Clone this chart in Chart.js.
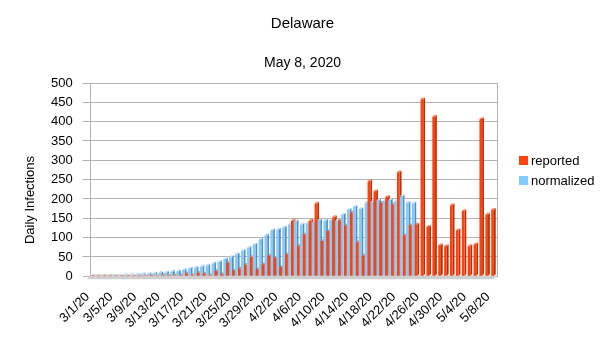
<!DOCTYPE html>
<html>
<head>
<meta charset="utf-8">
<script src="https://cdn.jsdelivr.net/npm/chart.js@4.4.1/dist/chart.umd.min.js"></script>
<style>
  html, body { margin: 0; padding: 0; background: #fff; }
  #wrap { position: relative; width: 605px; height: 340px; font-family: "Liberation Sans", Arial, sans-serif; color: #000; }
  #title { position: absolute; left: 0; width: 605px; top: 14px; text-align: center; font-size: 15px; line-height: 18px; }
  #subtitle { position: absolute; left: 0; width: 605px; top: 54px; text-align: center; font-size: 14px; line-height: 17px; }
  #legend { position: absolute; left: 519px; top: 150px; font-size: 13px; }
  #legend .item { height: 20px; display: flex; align-items: center; }
  #legend .box { width: 9px; height: 9px; margin-right: 3px; }
</style>
</head>
<body>
<div id="wrap">
  <canvas id="chart" width="605" height="340"></canvas>
  <div id="title"></div>
  <div id="subtitle"></div>
  <div id="legend"></div>
</div>
<script>
const FONT = '"Liberation Sans", Arial, sans-serif';
const TITLE = "Delaware";
const SUBTITLE = "May 8, 2020";
const Y_TITLE = "Daily Infections";

const dates = [
  "3/1/20", "3/2/20", "3/3/20", "3/4/20", "3/5/20", "3/6/20", "3/7/20", "3/8/20", "3/9/20", "3/10/20",
  "3/11/20", "3/12/20", "3/13/20", "3/14/20", "3/15/20", "3/16/20", "3/17/20", "3/18/20", "3/19/20", "3/20/20",
  "3/21/20", "3/22/20", "3/23/20", "3/24/20", "3/25/20", "3/26/20", "3/27/20", "3/28/20", "3/29/20", "3/30/20",
  "3/31/20", "4/1/20", "4/2/20", "4/3/20", "4/4/20", "4/5/20", "4/6/20", "4/7/20", "4/8/20", "4/9/20",
  "4/10/20", "4/11/20", "4/12/20", "4/13/20", "4/14/20", "4/15/20", "4/16/20", "4/17/20", "4/18/20", "4/19/20",
  "4/20/20", "4/21/20", "4/22/20", "4/23/20", "4/24/20", "4/25/20", "4/26/20", "4/27/20", "4/28/20", "4/29/20",
  "4/30/20", "5/1/20", "5/2/20", "5/3/20", "5/4/20", "5/5/20", "5/6/20", "5/7/20", "5/8/20",
];

const tickLabels = [
  "3/1/20", "3/5/20", "3/9/20", "3/13/20", "3/17/20", "3/21/20", "3/25/20", "3/29/20", "4/2/20",
  "4/6/20", "4/10/20", "4/14/20", "4/18/20", "4/22/20", "4/26/20", "4/30/20", "5/4/20", "5/8/20",
];

const reported = [
  0, 0, 0, 0, 0, 0, 0, 0, 0, 0,
  1, 0, 3, 1, 2, 3, 7, 3, 9, 7,
  3, 14, 5, 35, 15, 20, 30, 50, 18, 31,
  54, 48, 24, 57, 144, 78, 108, 144, 188, 91,
  117, 153, 145, 131, 165, 88, 54, 246, 220, 190,
  205, 186, 269, 106, 132, 134, 458, 128, 413, 80,
  78, 184, 119, 169, 78, 83, 407, 160, 172,
];

const normalized = [
  1, 1, 1, 2, 2, 3, 3, 4, 5, 6,
  7, 9, 10, 12, 13, 16, 20, 22, 25, 28,
  33, 37, 44, 50, 57, 66, 74, 82, 95, 106,
  119, 121, 126, 134, 142, 134, 137, 139, 145, 144,
  145, 144, 160, 172, 180, 174, 190, 192, 196, 194,
  197, 194, 207, 190, 189,
];

// fake 3d: floor, side + top faces drawn before the fronts so the fronts cover them
const depth = {
  id: "depth",
  beforeDatasetsDraw(chart) {
    const ctx = chart.ctx;
    const a = chart.chartArea;
    const d = 1.8;
    ctx.save();
    ctx.fillStyle = "#cfcfcf";
    ctx.beginPath();
    ctx.moveTo(a.left, a.bottom - 1);
    ctx.lineTo(a.right, a.bottom - 1);
    ctx.lineTo(a.right - 4, a.bottom + 3);
    ctx.lineTo(a.left - 4, a.bottom + 3);
    ctx.closePath();
    ctx.fill();
    chart.data.datasets.forEach((ds, i) => {
      chart.getDatasetMeta(i).data.forEach((bar) => {
        const { x, y, base, width } = bar.getProps(["x", "y", "base", "width"], true);
        if (y == null || isNaN(y)) return;
        const l = x - width / 2;
        const r = x + width / 2;
        ctx.fillStyle = ds.sideColor;
        ctx.beginPath();
        ctx.moveTo(r, y);
        ctx.lineTo(r + d, y - d);
        ctx.lineTo(r + d, base - d);
        ctx.lineTo(r, base);
        ctx.closePath();
        ctx.fill();
        ctx.fillStyle = ds.topColor;
        ctx.beginPath();
        ctx.moveTo(l, y);
        ctx.lineTo(l + d, y - d);
        ctx.lineTo(r + d, y - d);
        ctx.lineTo(r, y);
        ctx.closePath();
        ctx.fill();
      });
    });
    ctx.strokeStyle = "#b3b3b3";
    ctx.lineWidth = 1;
    ctx.beginPath();
    ctx.moveTo(Math.round(a.right) + 0.5, a.top);
    ctx.lineTo(Math.round(a.right) + 0.5, a.bottom);
    ctx.stroke();
    ctx.restore();
  },
};

const yTitle = {
  id: "yTitle",
  afterDraw(chart) {
    const ctx = chart.ctx;
    ctx.save();
    ctx.translate(30, 200);
    ctx.rotate(-Math.PI / 2);
    ctx.font = "13px " + FONT;
    ctx.fillStyle = "#000";
    ctx.textAlign = "center";
    ctx.textBaseline = "middle";
    ctx.fillText(Y_TITLE, 0, 0);
    ctx.restore();
  },
};

const chart = new Chart(document.getElementById("chart"), {
  type: "bar",
  data: {
    labels: dates,
    datasets: [
      { label: "reported", data: reported, backgroundColor: "#ff420e", sideColor: "#b83009", topColor: "#ff8a62" },
      { label: "normalized", data: normalized, backgroundColor: "#83caff", sideColor: "#5a8db5", topColor: "#b8e1ff" },
    ],
  },
  options: {
    animation: false,
    responsive: false,
    layout: { padding: { left: 41, right: 108, top: 83, bottom: -4 } },
    datasets: { bar: { categoryPercentage: 1, barPercentage: 0.92 } },
    plugins: {
      legend: { display: false },
      tooltip: { enabled: false },
    },
    scales: {
      x: {
        grid: { display: false, drawTicks: false },
        border: { color: "#b3b3b3" },
        ticks: {
          autoSkip: false, minRotation: 45, maxRotation: 45, padding: 13, labelOffset: -6,
          color: "#000", font: { family: FONT, size: 13 },
          callback: (v, i) => (tickLabels.includes(dates[i]) ? dates[i] : ""),
        },
      },
      y: {
        min: 0, max: 500,
        grid: { color: "#b3b3b3", tickLength: 8 },
        border: { color: "#b3b3b3" },
        ticks: { stepSize: 50, padding: 10, color: "#000", font: { family: FONT, size: 13 } },
      },
    },
  },
  plugins: [depth, yTitle],
});

document.getElementById("title").textContent = TITLE;
document.getElementById("subtitle").textContent = SUBTITLE;
// html legend from the datasets
document.getElementById("legend").innerHTML = chart.data.datasets.map((ds) =>
  `<div class="item"><span class="box" style="background:${ds.backgroundColor}"></span>${ds.label}</div>`
).join("");
</script>
</body>
</html>
